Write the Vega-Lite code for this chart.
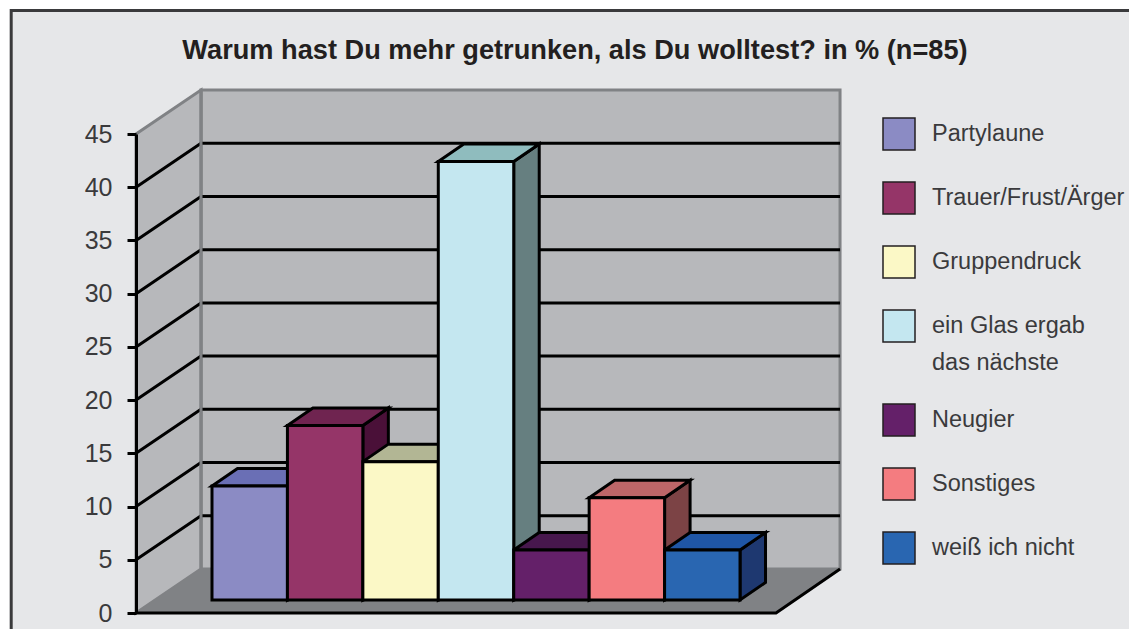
{"$schema":"https://vega.github.io/schema/vega-lite/v6.json","width":640,"height":479,"autosize":"none","padding":{"left":136,"top":134,"right":353,"bottom":16},"background":"#ffffff","view":{"stroke":null},
"config":{"style":{"guide-label":{"lineHeight":37}},"axisY":{"tickCount":10,"grid":false,"domainColor":"#000000","domainWidth":3,"tickColor":"#000000","tickWidth":3,"tickSize":9,"labelPadding":15,"labelFont":"Liberation Sans","labelFontSize":25,"labelColor":"#3a3a3c"}},
"title":{"text":"Warum hast Du mehr getrunken, als Du wolltest? in % (n=85)","anchor":"middle","frame":"group","dx":119,"offset":-56,"zindex":1,"font":"Liberation Sans","fontSize":27.2,"fontWeight":"bold","color":"#231f20"},
"datasets":{"bars":[{"category":"Partylaune","value":10.7,"order":0},{"category":"Trauer/Frust/Ärger","value":16.4,"order":1},{"category":"Gruppendruck","value":13.0,"order":2},{"category":"ein Glas ergab das nächste","value":41.2,"order":3},{"category":"Neugier","value":4.7,"order":4},{"category":"Sonstiges","value":9.6,"order":5},{"category":"weiß ich nicht","value":4.7,"order":6}],"ticks":[{"tick":5},{"tick":10},{"tick":15},{"tick":20},{"tick":25},{"tick":30},{"tick":35},{"tick":40}],"one":[{"id":1}]},
"layer":[
{"data":{"name":"one"},"mark":{"type":"rect","fill":"#e6e7e9","stroke":"#3a3a3c","strokeWidth":3},"encoding":{"x":{"datum":-2.662,"type":"quantitative","scale":{"domain":[-1.0075,7.477],"nice":false,"zero":false},"axis":null},"x2":{"datum":12.19},"y":{"datum":56.6,"type":"quantitative","axis":{"zindex":1,"title":null},"scale":{"domain":[0,45],"nice":false,"zero":false}},"y2":{"datum":-2.07}}},
{"data":{"name":"one"},"mark":{"type":"rect","fill":"#b7b8bb","stroke":"#808285","strokeWidth":3},"encoding":{"x":{"datum":-0.1458,"type":"quantitative","scale":{"domain":[-1.0075,7.477],"nice":false,"zero":false},"axis":null},"x2":{"datum":8.326},"y":{"datum":49.134,"type":"quantitative","axis":{"zindex":1,"title":null},"scale":{"domain":[0,45],"nice":false,"zero":false}},"y2":{"datum":4.134}}},
{"data":{"name":"one"},"transform":[{"calculate":"[0,1]","as":"t"},{"flatten":["t"]},{"calculate":"-1.0075+0.8617*datum.t","as":"x"},{"calculate":"45+4.134*datum.t","as":"y"},{"calculate":"4.134*datum.t","as":"y2"}],"mark":{"type":"area","orient":"vertical","fill":"#b7b8bb","stroke":"#808285","strokeWidth":3},"encoding":{"x":{"field":"x","type":"quantitative","scale":{"domain":[-1.0075,7.477],"nice":false,"zero":false},"axis":null},"y":{"field":"y","type":"quantitative","axis":{"zindex":1,"title":null},"stack":null,"scale":{"domain":[0,45],"nice":false,"zero":false}},"y2":{"field":"y2"}}},
{"data":{"name":"one"},"transform":[{"calculate":"[0,1]","as":"t"},{"flatten":["t"]},{"calculate":"4.134*datum.t","as":"y"},{"calculate":"-1.0075+0.8617*datum.t","as":"x"},{"calculate":"7.477+0.849*datum.t","as":"x2"}],"mark":{"type":"area","orient":"horizontal","fill":"#808285"},"encoding":{"y":{"field":"y","type":"quantitative","axis":{"zindex":1,"title":null},"scale":{"domain":[0,45],"nice":false,"zero":false}},"x":{"field":"x","type":"quantitative","stack":null,"scale":{"domain":[-1.0075,7.477],"nice":false,"zero":false},"axis":null},"x2":{"field":"x2"}}},
{"data":{"name":"ticks"},"transform":[{"calculate":"[0,1,2]","as":"stage"},{"flatten":["stage"]},{"calculate":"datum.stage==0?-1.0075:(datum.stage==1?-0.1458:8.326)","as":"x"},{"calculate":"datum.tick+(datum.stage==0?0:4.134)","as":"y"}],"mark":{"type":"line","stroke":"#000000","strokeWidth":3},"encoding":{"x":{"field":"x","type":"quantitative","scale":{"domain":[-1.0075,7.477],"nice":false,"zero":false},"axis":null},"y":{"field":"y","type":"quantitative","axis":{"zindex":1,"title":null},"scale":{"domain":[0,45],"nice":false,"zero":false}},"detail":{"field":"tick"}}},
{"data":{"name":"one"},"transform":[{"calculate":"[0,1]","as":"t"},{"flatten":["t"]},{"calculate":"-0.1458","as":"x"},{"calculate":"4.134+45*datum.t","as":"y"}],"mark":{"type":"line","stroke":"#808285","strokeWidth":3},"encoding":{"x":{"field":"x","type":"quantitative","scale":{"domain":[-1.0075,7.477],"nice":false,"zero":false},"axis":null},"y":{"field":"y","type":"quantitative","axis":{"zindex":1,"title":null},"scale":{"domain":[0,45],"nice":false,"zero":false}}}},
{"data":{"name":"one"},"transform":[{"calculate":"[0,1,2]","as":"stage"},{"flatten":["stage"]},{"calculate":"datum.stage==0?-1.0075:(datum.stage==1?7.477:8.326)","as":"x"},{"calculate":"datum.stage==2?4.134:0","as":"y"}],"mark":{"type":"line","stroke":"#000000","strokeWidth":3},"encoding":{"x":{"field":"x","type":"quantitative","scale":{"domain":[-1.0075,7.477],"nice":false,"zero":false},"axis":null},"y":{"field":"y","type":"quantitative","axis":{"zindex":1,"title":null},"scale":{"domain":[0,45],"nice":false,"zero":false}}}},
{"data":{"name":"bars"},"transform":[{"calculate":"[0,1]","as":"t"},{"flatten":["t"]},{"calculate":"datum.order+1+0.338*datum.t","as":"x"},{"calculate":"datum.value+1.221+1.644*datum.t","as":"y"},{"calculate":"1.221+1.644*datum.t","as":"y2"}],"mark":{"type":"area","orient":"vertical","stroke":"#000000","strokeWidth":3,"strokeJoin":"miter"},"encoding":{"x":{"field":"x","type":"quantitative","scale":{"domain":[-1.0075,7.477],"nice":false,"zero":false},"axis":null},"y":{"field":"y","type":"quantitative","axis":{"zindex":1,"title":null},"stack":null,"scale":{"domain":[0,45],"nice":false,"zero":false}},"y2":{"field":"y2"},"fill":{"field":"category","type":"nominal","legend":null,"scale":{"domain":["Partylaune","Trauer/Frust/Ärger","Gruppendruck","ein Glas ergab das nächste","Neugier","Sonstiges","weiß ich nicht"],"range":["#5a5e9c","#4a1038","#8a8a6a","#667f80","#3a1040","#7c4345","#1e3870"]}}}},
{"data":{"name":"bars"},"transform":[{"calculate":"[0,1]","as":"t"},{"flatten":["t"]},{"calculate":"datum.value+1.221+1.644*datum.t","as":"y"},{"calculate":"datum.order+0.338*datum.t","as":"x"},{"calculate":"datum.order+1+0.338*datum.t","as":"x2"}],"mark":{"type":"area","orient":"horizontal","stroke":"#000000","strokeWidth":3,"strokeJoin":"miter"},"encoding":{"y":{"field":"y","type":"quantitative","axis":{"zindex":1,"title":null},"scale":{"domain":[0,45],"nice":false,"zero":false}},"x":{"field":"x","type":"quantitative","stack":null,"scale":{"domain":[-1.0075,7.477],"nice":false,"zero":false},"axis":null},"x2":{"field":"x2"},"fill":{"field":"category","type":"nominal","legend":null,"scale":{"domain":["Partylaune","Trauer/Frust/Ärger","Gruppendruck","ein Glas ergab das nächste","Neugier","Sonstiges","weiß ich nicht"],"range":["#6a6fb5","#6f2450","#b2b694","#8fbcbe","#47174d","#bd6668","#1f56a6"]}}}},
{"data":{"name":"bars"},"transform":[{"calculate":"datum.order+1","as":"xEnd"},{"calculate":"datum.value+1.221","as":"top"},{"calculate":"1.221","as":"base"}],"mark":{"type":"rect","stroke":"#000000","strokeWidth":3,"strokeJoin":"miter"},"encoding":{"x":{"field":"order","type":"quantitative","scale":{"domain":[-1.0075,7.477],"nice":false,"zero":false},"axis":null},"x2":{"field":"xEnd"},"y":{"field":"top","type":"quantitative","axis":{"zindex":1,"title":null},"scale":{"domain":[0,45],"nice":false,"zero":false}},"y2":{"field":"base"},"fill":{"field":"category","type":"nominal","scale":{"domain":["Partylaune","Trauer/Frust/Ärger","Gruppendruck","ein Glas ergab das nächste","Neugier","Sonstiges","weiß ich nicht"],"range":["#8b8bc4","#953568","#fbf8c6","#c4e7f0","#642069","#f47c80","#2966b1"]},"legend":{"orient":"none","legendX":746,"legendY":-17,"title":null,"padding":0,"symbolType":"square","symbolSize":1024,"symbolStrokeColor":"#231f20","symbolStrokeWidth":1.5,"labelFont":"Liberation Sans","labelFontSize":23.5,"labelColor":"#3a3a3c","labelLimit":300,"labelOffset":16,"rowPadding":26,"labelExpr":"datum.label=='ein Glas ergab das nächste'?['ein Glas ergab','das nächste']:datum.label"}}}}
],
"resolve":{"scale":{"fill":"independent"}}}
